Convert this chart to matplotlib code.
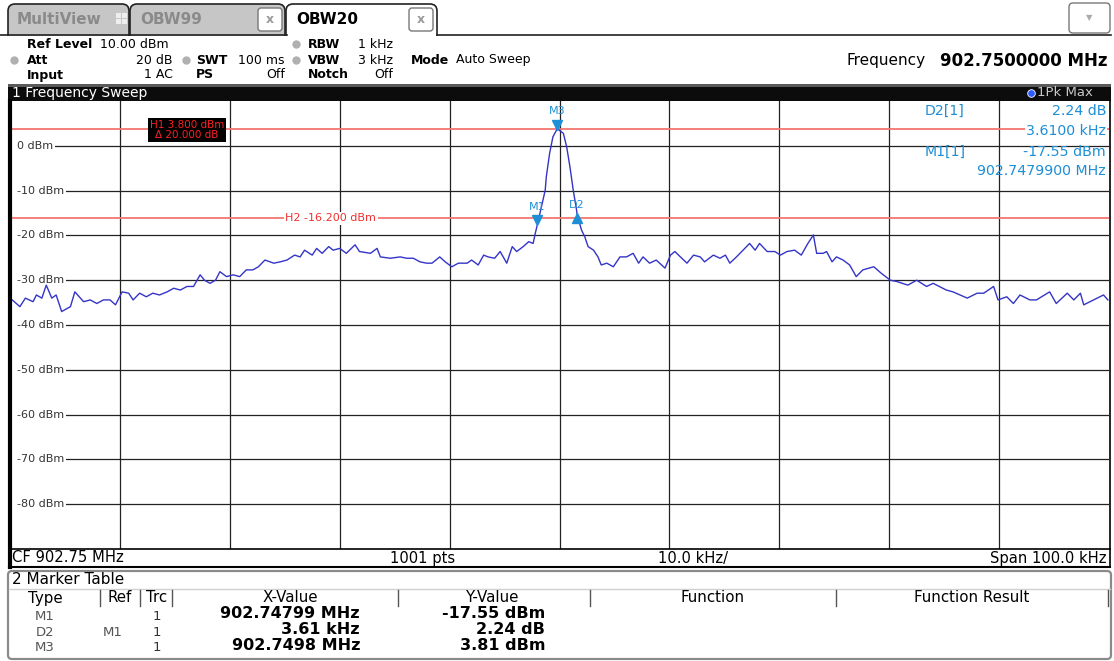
import matplotlib.pyplot as plt
from matplotlib.patches import Rectangle, FancyBboxPatch

plt.rcParams['font.family'] = 'DejaVu Sans'

W, H = 1114, 661

# trace 1 (1Pk Max): offset from centre frequency in kHz, level in dBm
trace_khz = [-49.8, -49.1, -48.6, -47.9, -47.6, -47.1, -46.7, -46.2, -45.8, -45.3,
             -44.5, -44.1, -43.3, -42.7, -42.1, -41.5, -40.9, -40.4, -39.8, -39.2,
             -38.8, -38.2, -37.6, -37.0, -36.4, -35.7, -35.1, -34.5, -33.9, -33.3,
             -32.7, -32.3, -31.8, -31.3, -30.9, -30.3, -29.7, -29.1, -28.5, -27.9,
             -27.4, -26.8, -26.0, -25.4, -24.8, -24.1, -23.6, -23.2, -22.5, -22.1,
             -21.6, -21.0, -20.6, -20.0, -19.4, -18.6, -18.2, -17.2, -16.6, -16.3,
             -15.4, -14.5, -13.9, -13.3, -12.7, -12.1, -11.6, -10.9, -10.4, -9.8,
             -9.2, -8.4, -8.0, -7.4, -6.9, -6.5, -5.9, -5.4, -4.8, -4.3,
             -3.9, -3.3, -2.8, -2.4, -2.2, -2.01, -1.5, -1.3, -1.2, -0.9,
             -0.6, -0.2, 0.35, 0.65, 0.95, 1.25, 1.55, 1.60, 2.0, 2.3,
             2.6, 3.1, 3.5, 3.8, 4.3, 4.9, 5.5, 6.1, 6.7, 7.2,
             7.6, 8.2, 8.8, 9.6, 10.1, 10.5, 11.0, 11.6, 12.2, 12.8,
             13.2, 14.0, 14.6, 15.1, 15.5, 16.1, 16.7, 17.3, 17.8, 18.2,
             18.9, 19.6, 20.1, 20.7, 21.4, 22.0, 22.6, 23.1, 23.4, 24.0,
             24.3, 24.8, 25.2, 25.8, 26.4, 27.0, 27.6, 28.6, 29.3, 30.1,
             30.7, 31.7, 32.5, 33.4, 34.0, 35.2, 35.8, 37.1, 38.0, 38.6,
             39.5, 39.9, 40.7, 41.3, 41.9, 42.8, 43.4, 44.6, 45.2, 46.2,
             46.8, 47.4, 47.7, 48.6, 49.5, 49.9]
trace_dbm = [-34.4, -35.9, -34.0, -34.8, -33.3, -34.0, -31.1, -34.0, -33.3, -37.0,
             -35.9, -32.6, -34.8, -34.4, -35.2, -34.4, -34.4, -35.5, -32.6, -32.9,
             -34.4, -32.9, -33.7, -32.9, -33.3, -32.6, -31.8, -32.2, -31.4, -31.4,
             -28.8, -30.0, -30.7, -30.0, -28.1, -29.2, -28.8, -29.2, -27.7, -27.7,
             -27.0, -25.5, -26.2, -25.9, -25.5, -24.4, -24.8, -23.3, -24.4, -22.9,
             -24.0, -22.5, -23.3, -22.9, -24.0, -22.1, -23.6, -24.0, -22.9, -24.8,
             -25.1, -24.8, -25.1, -25.1, -25.9, -26.2, -26.2, -24.8, -25.9, -27.0,
             -26.2, -26.2, -25.5, -26.6, -24.4, -24.8, -25.1, -23.6, -26.2, -22.5,
             -23.6, -22.5, -21.4, -21.8, -19.5, -17.55, -12.1, -9.9, -6.9, -1.7,
             2.0, 3.81, 2.8, -0.2, -4.7, -9.9, -14.3, -15.31, -18.8, -20.3,
             -22.5, -23.3, -24.8, -26.6, -26.2, -27.0, -24.8, -24.8, -24.0, -26.2,
             -24.8, -26.2, -25.5, -27.3, -24.4, -23.6, -24.8, -26.2, -24.4, -24.8,
             -25.9, -24.4, -25.1, -24.4, -26.2, -24.8, -23.3, -21.8, -23.3, -21.8,
             -23.6, -23.6, -24.4, -23.6, -23.3, -24.4, -21.8, -19.9, -24.0, -24.0,
             -23.6, -25.9, -24.8, -25.5, -26.6, -29.2, -27.7, -27.0, -28.5, -30.0,
             -30.3, -31.1, -30.0, -31.4, -30.7, -32.2, -32.6, -34.0, -32.9, -32.9,
             -31.4, -34.4, -33.7, -35.2, -33.3, -34.4, -34.4, -32.6, -35.2, -32.9,
             -34.4, -32.9, -35.5, -34.4, -33.3, -34.4]

span_khz = 100.0
ref_level = 10.0
bottom_level = -90.0
grid_levels = [0, -10, -20, -30, -40, -50, -60, -70, -80]
h1_level = 3.8
h2_level = -16.2

marker_names = ['M1', 'D2', 'M3']
marker_khz = [-2.01, 1.60, -0.20]
marker_dbm = [-17.55, -15.31, 3.81]
marker_shape = ['v', '^', 'v']

tab_names = ['MultiView', 'OBW99', 'OBW20']

table_cols = ['Type', 'Ref', 'Trc', 'X-Value', 'Y-Value', 'Function', 'Function Result']
table_type = ['M1', 'D2', 'M3']
table_ref = ['', 'M1', '']
table_trc = ['1', '1', '1']
table_x = ['902.74799 MHz', '3.61 kHz', '902.7498 MHz']
table_y = ['-17.55 dBm', '2.24 dB', '3.81 dBm']

BLUE = '#1e8fd6'
RED = '#f2766e'

fig = plt.figure(figsize=(W / 100, H / 100), dpi=100)

# main sweep diagram
ax = fig.add_axes([10 / W, 1 - 549 / H, 1099 / W, 448 / H], zorder=1)
ax.set_xlim(-span_khz / 2, span_khz / 2)
ax.set_ylim(bottom_level, ref_level)
ax.set_xticks([])
ax.set_yticks([])
for s in ax.spines.values():
    s.set_visible(False)

for k in range(-40, 50, 10):
    ax.axvline(k, color='#222222', lw=0.9, zorder=1)
for lvl in grid_levels:
    ax.hlines(lvl, -49.4, 50, color='#222222', lw=0.9, zorder=1)
    ax.text(-49.35, lvl, f'{lvl} dBm', fontsize=8, color='#333333', va='center', ha='left',
            zorder=2, bbox=dict(fc='white', ec='none', pad=1.0))

ax.axhline(h1_level, color=RED, lw=1.3, zorder=2)
ax.axhline(h2_level, color=RED, lw=1.3, zorder=2)
ax.text(-33.9, h1_level - 0.3, f'H1 {h1_level:.3f} dBm\n\u0394 {h1_level - h2_level:.3f} dB',
        fontsize=7.5, color='#ff2020', ha='center', va='center', linespacing=1.0, zorder=4,
        bbox=dict(fc='black', ec='none', pad=1.2))
ax.text(-20.8, h2_level, f'H2 {h2_level:.3f} dBm', fontsize=8, color='#ee3030',
        ha='center', va='center', zorder=2, bbox=dict(fc='white', ec='none', pad=1.0))

ax.plot(trace_khz, trace_dbm, color='#3434c8', lw=1.0, zorder=3)

for name, k, d, m in zip(marker_names, marker_khz, marker_dbm, marker_shape):
    off = 0.9 if m == 'v' else -0.9
    lab = 3.9 if m == 'v' else 2.1
    ax.plot(k, d + off, marker=m, color=BLUE, markersize=6.5, zorder=5, ls='none')
    ax.text(k, d + lab, name, fontsize=8, color=BLUE, ha='center', va='center', zorder=5)

# everything around the diagram, in pixel coordinates
ov = fig.add_axes([0, 0, 1, 1], zorder=10)
ov.set_xlim(0, W)
ov.set_ylim(H, 0)
ov.axis('off')


def txt(x, y, s, **kw):
    kw.setdefault('va', 'center')
    kw.setdefault('fontsize', 9)
    ov.text(x, y, s, **kw)


# tabs
tab_x = [(8, 129), (130, 285), (286, 437)]
for (x0, x1), name in zip(tab_x, tab_names):
    active = name == 'OBW20'
    ov.add_patch(FancyBboxPatch((x0, 4), x1 - x0, 40, boxstyle='round,pad=0,rounding_size=7',
                                fc='white' if active else '#c6c6c6', ec='#222222', lw=1.2,
                                zorder=1))
    txt(x0 + 10 if name != 'MultiView' else x0 + 9, 19, name, fontsize=11, weight='bold',
        color='black' if active else '#8a8a8a', zorder=3)
for xc in (258, 409):
    ov.add_patch(FancyBboxPatch((xc, 8), 24, 23, boxstyle='round,pad=0,rounding_size=3',
                                fc='white', ec='#777777', lw=1.0, zorder=3))
    txt(xc + 12, 19.5, 'x', fontsize=9, weight='bold', color='#9a9a9a', ha='center', zorder=4)
for dx in (0, 6):
    for dy in (0, 6):
        ov.add_patch(Rectangle((116 + dx, 13 + dy), 4.5, 4.5, fc='#eeeeee', ec='none', zorder=3))
ov.add_patch(Rectangle((0, 35.5), W, 49, fc='white', ec='none', zorder=2))
ov.plot([437, 1111], [35, 35], color='#222222', lw=1.2, zorder=3)
ov.plot([0, 287], [35, 35], color='#222222', lw=1.2, zorder=3)
ov.add_patch(FancyBboxPatch((1069, 3), 41, 30, boxstyle='round,pad=0,rounding_size=4',
                            fc='white', ec='#777777', lw=1.0, zorder=3))
txt(1089.5, 18, '\u25bc', fontsize=6, color='#aaaaaa', ha='center', zorder=4)

# settings block
for (x, y) in [(14, 60), (186, 60), (296, 44), (296, 60)]:
    ov.plot(x, y, 'o', color='#b0b0b0', markersize=5, zorder=4)
rows = [44, 60, 75]
lab = dict(weight='bold', fontsize=9, zorder=4)
val = dict(fontsize=9, zorder=4)
txt(27, rows[0], 'Ref Level', **lab)
txt(100, rows[0], '10.00 dBm', **val)
txt(27, rows[1], 'Att', **lab)
txt(173, rows[1], '20 dB', ha='right', **val)
txt(27, rows[2], 'Input', **lab)
txt(173, rows[2], '1 AC', ha='right', **val)
txt(196, rows[1], 'SWT', **lab)
txt(285, rows[1], '100 ms', ha='right', **val)
txt(196, rows[2], 'PS', **lab)
txt(285, rows[2], 'Off', ha='right', **val)
txt(308, rows[0], 'RBW', **lab)
txt(393, rows[0], '1 kHz', ha='right', **val)
txt(308, rows[1], 'VBW', **lab)
txt(393, rows[1], '3 kHz', ha='right', **val)
txt(308, rows[2], 'Notch', **lab)
txt(393, rows[2], 'Off', ha='right', **val)
txt(411, rows[1], 'Mode', **lab)
txt(456, rows[1], 'Auto Sweep', **val)
txt(926, 61, 'Frequency', fontsize=11, ha='right', zorder=4)
txt(1108, 61, '902.7500000 MHz', fontsize=12, weight='bold', ha='right', zorder=4)

# window title bar
ov.add_patch(Rectangle((8, 84), 1103, 17, fc='#0c0c0c', ec='none', zorder=4))
ov.add_patch(Rectangle((8, 84), 1103, 2.5, fc='#5a5a5a', ec='none', zorder=5))
txt(12, 93, '1 Frequency Sweep', fontsize=10, color='white', zorder=6)
ov.plot(1031, 92.5, 'o', color='#2c5cff', mec='white', mew=0.6, markersize=5.5, zorder=6)
txt(1037, 93, '1Pk Max', fontsize=9.5, color='#c8c8c8', zorder=6)

# frame of the diagram and status line
ov.plot([9.5, 9.5], [101, 567], color='black', lw=3, zorder=4)
ov.plot([1110, 1110], [101, 567], color='black', lw=1.2, zorder=4)
ov.plot([9, 1110], [549, 549], color='black', lw=1.2, zorder=4)
ov.plot([9, 1110], [567, 567], color='black', lw=1.5, zorder=4)
txt(12, 558, 'CF 902.75 MHz', fontsize=10.6, zorder=4)
txt(423, 558, '1001 pts', fontsize=10.6, ha='center', zorder=4)
txt(693, 558, '10.0 kHz/', fontsize=10.6, ha='center', zorder=4)
txt(1106, 558, 'Span 100.0 kHz', fontsize=10.6, ha='right', zorder=4)

# marker readout
rd = dict(color=BLUE, fontsize=10.2, zorder=6)
txt(925, 111, 'D2[1]', **rd)
txt(1106, 111, '2.24 dB', ha='right', **rd)
txt(1106, 131, '3.6100 kHz', ha='right', bbox=dict(fc='white', ec='none', pad=0.5), **rd)
txt(925, 152, 'M1[1]', **rd)
txt(1106, 152, '-17.55 dBm', ha='right', **rd)
txt(1106, 171, '902.7479900 MHz', ha='right', **rd)

# marker table
ov.add_patch(FancyBboxPatch((8, 571), 1103, 88, boxstyle='round,pad=0,rounding_size=4',
                            fc='white', ec='#8a8a8a', lw=1.6, zorder=3))
txt(12, 580, '2 Marker Table', fontsize=11, zorder=4)
ov.plot([9, 1110], [589, 589], color='#d0d0d0', lw=1.0, zorder=4)
col_sep = [100, 140, 172, 398, 590, 836, 1108]
col_cx = [45, 120, 157, 290, 493, 713, 972]
for xs in col_sep:
    ov.plot([xs, xs], [590, 606], color='#555555', lw=1.0, zorder=4)
for cx, name in zip(col_cx, table_cols):
    txt(cx, 598, name, fontsize=10.8, ha='center', zorder=4)
row_y = [614, 629.5, 645]
for i, y in enumerate(row_y):
    txt(45, y + 2.5, table_type[i], fontsize=9.5, color='#555555', ha='center', zorder=4)
    txt(113, y + 2.5, table_ref[i], fontsize=9.5, color='#555555', ha='center', zorder=4)
    txt(157, y + 2.5, table_trc[i], fontsize=9.5, color='#333333', ha='center', zorder=4)
    txt(360, y, table_x[i], fontsize=11.5, weight='bold', ha='right', zorder=4)
    txt(545, y, table_y[i], fontsize=11.5, weight='bold', ha='right', zorder=4)

fig.savefig('out.png', dpi=100)
